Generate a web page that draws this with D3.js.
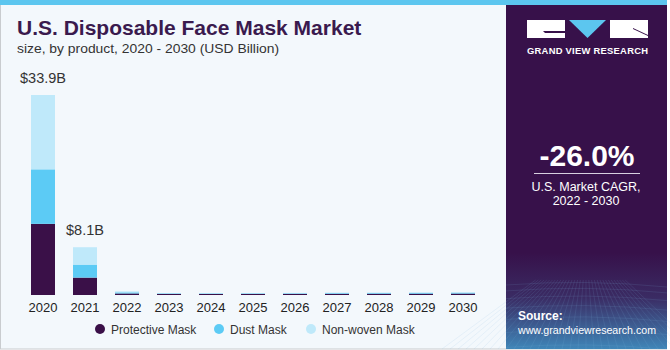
<!DOCTYPE html>
<html><head><meta charset="utf-8">
<script src="https://cdn.jsdelivr.net/npm/d3@7"></script>
<style>
html,body{margin:0;padding:0;background:#fff;}
svg{display:block;font-family:"Liberation Sans",Arial,sans-serif;}
</style></head>
<body>
<svg id="c" width="670" height="350"></svg>
<script>
const years = ["2020","2021","2022","2023","2024","2025","2026","2027","2028","2029","2030"];
const protective = [12.06, 2.95, 0.26, 0.18, 0.17, 0.18, 0.19, 0.20, 0.21, 0.22, 0.24];
const dust       = [9.24, 2.20, 0.19, 0.10, 0.09, 0.10, 0.10, 0.12, 0.12, 0.13, 0.14];
const nonwoven   = [12.60, 2.95, 0.17, 0.06, 0.06, 0.06, 0.06, 0.08, 0.08, 0.09, 0.10];
const seriesNames = ["Protective Mask","Dust Mask","Non-woven Mask"];
const colors = ["#3a1048","#5ccbf5","#bfe9fa"];
const totalLabels = ["$33.9B","$8.1B"];

const svg = d3.select("#c");
// backgrounds
svg.append("rect").attr("x",0).attr("y",0).attr("width",670).attr("height",350).attr("fill","#ffffff");
svg.append("rect").attr("x",0.5).attr("y",0.5).attr("width",666).attr("height",348.5).attr("fill","#f3f8fc").attr("stroke","#c9cccf");
svg.append("rect").attr("x",0).attr("y",0).attr("width",667).attr("height",5).attr("fill","#5cc6ef");

// right panel
const defs = svg.append("defs");
const g1 = defs.append("linearGradient").attr("id","pg").attr("x1",0).attr("y1",0).attr("x2",0).attr("y2",1);
g1.append("stop").attr("offset","0").attr("stop-color","#37114a");
g1.append("stop").attr("offset","0.72").attr("stop-color","#37114a");
g1.append("stop").attr("offset","0.85").attr("stop-color","#3a2b63");
g1.append("stop").attr("offset","1").attr("stop-color","#3f86b8");
svg.append("rect").attr("x",506).attr("y",5).attr("width",161).attr("height",344).attr("fill","url(#pg)");
// grid pattern at bottom
const gp = svg.append("g").attr("stroke","#7fb6dc").attr("stroke-opacity",0.18).attr("stroke-width",0.7).attr("fill","none");
for(let i=0;i<9;i++){ const yy=285+i*i*0.9+i*5; gp.append("path").attr("d",`M506,${yy} Q586,${yy-6} 667,${yy+2}`);}
for(let i=-8;i<=24;i++){ const xx=506+i*8; gp.append("line").attr("x1",586+(xx-586)*0.35).attr("y1",280).attr("x2",xx).attr("y2",349);}

// logo
const lg = svg.append("g");
lg.append("rect").attr("x",527).attr("y",20).attr("width",38).attr("height",18).attr("fill","#fff");
lg.append("path").attr("d","M543,31 L565,31 L565,33 L545,33 Z").attr("fill","#37114a");
lg.append("path").attr("d","M569,20 L606,20 L587.5,38 Z").attr("fill","#5cc6ef");
lg.append("rect").attr("x",610).attr("y",20).attr("width",38).attr("height",18).attr("fill","#fff");
lg.append("path").attr("d","M633,28 L648,35 L648,36 L633,29 Z").attr("fill","#37114a");
svg.append("text").attr("x",527).attr("y",53.5).attr("fill","#fff")
  .attr("font-size",9.4).attr("font-weight","bold").attr("textLength",121).attr("lengthAdjust","spacing").text("GRAND VIEW RESEARCH");

svg.append("text").attr("x",587).attr("y",166).attr("text-anchor","middle").attr("fill","#fff")
  .attr("font-size",30).attr("font-weight","bold").text("-26.0%");
svg.append("line").attr("x1",534).attr("x2",640).attr("y1",173.5).attr("y2",173.5).attr("stroke","#d8d0e0").attr("stroke-width",1);
svg.append("text").attr("x",586).attr("y",191).attr("text-anchor","middle").attr("fill","#fff").attr("font-size",12.5).text("U.S. Market CAGR,");
svg.append("text").attr("x",586).attr("y",205).attr("text-anchor","middle").attr("fill","#fff").attr("font-size",12.5).text("2022 - 2030");
svg.append("text").attr("x",518).attr("y",320).attr("fill","#fff").attr("font-size",12).attr("font-weight","bold").text("Source:");
svg.append("text").attr("x",518).attr("y",334).attr("fill","#fff").attr("font-size",11.5)
  .attr("textLength",138).attr("lengthAdjust","spacingAndGlyphs").text("www.grandviewresearch.com");

// titles
svg.append("text").attr("x",17).attr("y",35).attr("fill","#3a1a4e").attr("font-size",21).attr("font-weight","bold").text("U.S. Disposable Face Mask Market");
svg.append("text").attr("x",17).attr("y",53).attr("fill","#333").attr("font-size",13.5)
  .attr("textLength",262).attr("lengthAdjust","spacingAndGlyphs").text("size, by product, 2020 - 2030 (USD Billion)");

// scales
const x = d3.scaleBand().domain(years).range([31,475]).paddingInner(0.4286).paddingOuter(0);
const y = d3.scaleLinear().domain([0,33.9]).range([295,95]);

const data = years.map((yr,i)=>({year:yr, p:protective[i], d:dust[i], n:nonwoven[i]}));
const stack = d3.stack().keys(["p","d","n"])(data);
const bars = svg.append("g");
stack.forEach((s,si)=>{
  bars.selectAll(null).data(s).enter().append("rect")
    .attr("x",d=>x(d.data.year)).attr("width",x.bandwidth())
    .attr("y",d=>y(d[1])).attr("height",d=>y(d[0])-y(d[1]))
    .attr("fill",colors[si]);
});

// total labels
totalLabels.forEach((t,i)=>{
  const tot = protective[i]+dust[i]+nonwoven[i];
  svg.append("text").attr("x",x(years[i])+x.bandwidth()/2).attr("y",y(tot)-12)
    .attr("text-anchor","middle").attr("fill","#333").attr("font-size",14.5).text(t);
});

// axis
const ax = svg.append("g").attr("transform","translate(0,295)").call(d3.axisBottom(x).tickSize(0).tickPadding(5));
ax.select(".domain").remove();
ax.selectAll("text").attr("font-size",13).attr("fill","#222").attr("font-family","Liberation Sans, Arial, sans-serif").attr("dy","0.9em");

// legend
const legX = [100,219,311];
seriesNames.forEach((n,i)=>{
  svg.append("circle").attr("cx",legX[i]).attr("cy",329).attr("r",5).attr("fill",colors[i]);
  svg.append("text").attr("x",legX[i]+11).attr("y",333.5).attr("fill","#333").attr("font-size",12).text(n);
});
</script>
</body></html>
